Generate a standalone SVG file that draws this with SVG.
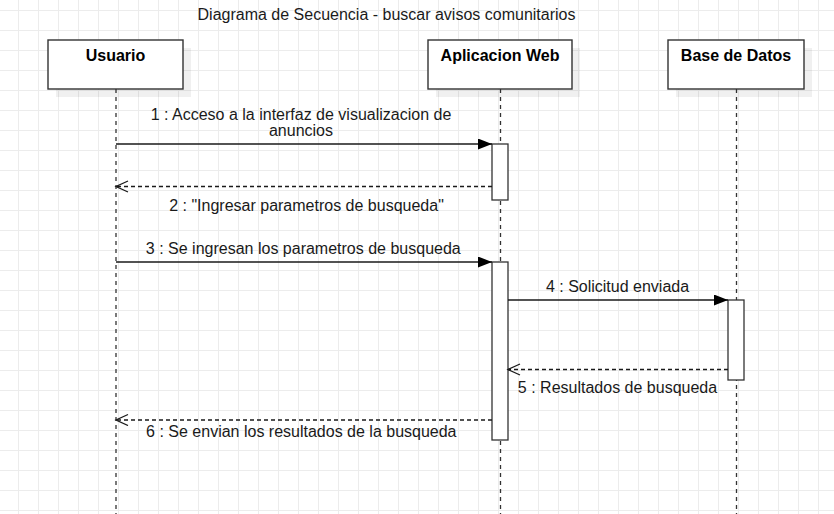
<svg xmlns="http://www.w3.org/2000/svg" width="834" height="514" viewBox="0 0 834 514">
<style>
text{font-family:"Liberation Sans",Arial,sans-serif;font-size:16px;fill:#1a1a1a}
.b{font-weight:bold;text-anchor:middle;fill:#000}
.m{text-anchor:middle}
.box{fill:#fff;stroke:#333;stroke-width:1.4}
.sh{fill:#000;fill-opacity:0.06}
.act{fill:#fff;stroke:#333;stroke-width:1.3}
.life{stroke:#333;stroke-width:1.3;stroke-dasharray:4 4;fill:none}
.msg{stroke:#1a1a1a;stroke-width:1.3;fill:none}
.ret{stroke:#1a1a1a;stroke-width:1.3;fill:none;stroke-dasharray:4 3}
</style>
<defs>
<pattern id="grid" patternUnits="userSpaceOnUse" x="18" y="10" width="20" height="20">
<path d="M0.5 0V20M0 0.5H20" stroke="#ececec" stroke-width="1" fill="none"/>
</pattern>
<marker id="fill" markerUnits="userSpaceOnUse" markerWidth="16" markerHeight="14" refX="14" refY="5.5" orient="auto">
<path d="M0 0L14 5.5L0 11Z" fill="#000"/>
</marker>
<marker id="open" markerUnits="userSpaceOnUse" markerWidth="16" markerHeight="14" refX="13" refY="6" orient="auto">
<path d="M1 0.5L13 6L1 11.5" fill="none" stroke="#1a1a1a" stroke-width="1.3"/>
</marker>
</defs>
<rect width="834" height="514" fill="#fff"/>
<rect width="834" height="514" fill="url(#grid)"/>
<text x="386.5" y="19.5" class="m">Diagrama de Secuencia - buscar avisos comunitarios</text>
<g id="lifelines">
<line class="life" x1="116" y1="89" x2="116" y2="514"/>
<line class="life" x1="500.5" y1="89" x2="500.5" y2="514"/>
<line class="life" x1="736.5" y1="89" x2="736.5" y2="514"/>
</g>
<g id="usuario">
<rect class="sh" x="56" y="48" width="135" height="49"/>
<rect class="box" x="48" y="40" width="135" height="49"/>
<text x="115.5" y="61" class="b">Usuario</text>
</g>
<g id="app">
<rect class="sh" x="436" y="48" width="144" height="49"/>
<rect class="box" x="428" y="40" width="144" height="49"/>
<text x="500" y="61" class="b">Aplicacion Web</text>
</g>
<g id="db">
<rect class="sh" x="676" y="48" width="136" height="49"/>
<rect class="box" x="668" y="40" width="136" height="49"/>
<text x="736" y="61" class="b">Base de Datos</text>
</g>
<g id="act1"><rect class="act" x="492" y="144" width="16" height="56"/></g>
<g id="act2"><rect class="act" x="492" y="262" width="16" height="178"/></g>
<g id="act3"><rect class="act" x="728" y="300" width="16" height="80"/></g>
<g id="connectors">
<line class="msg" x1="116" y1="144" x2="492" y2="144" marker-end="url(#fill)"/>
<line class="ret" x1="492" y1="186.5" x2="116" y2="186.5" marker-end="url(#open)"/>
<line class="msg" x1="116" y1="262" x2="492" y2="262" marker-end="url(#fill)"/>
<line class="msg" x1="508" y1="300" x2="728" y2="300" marker-end="url(#fill)"/>
<line class="ret" x1="728" y1="369.5" x2="508" y2="369.5" marker-end="url(#open)"/>
<line class="ret" x1="492" y1="420" x2="116" y2="420" marker-end="url(#open)"/>
</g>
<g id="labels">
<text x="301" y="119.5" class="m">1 : Acceso a la interfaz de visualizacion de</text>
<text x="301" y="136" class="m">anuncios</text>
<text x="306.5" y="211" class="m">2 : "Ingresar parametros de busqueda"</text>
<text x="303.3" y="254" class="m">3 : Se ingresan los parametros de busqueda</text>
<text x="617.5" y="292" class="m">4 : Solicitud enviada</text>
<text x="617.5" y="393" class="m">5 : Resultados de busqueda</text>
<text x="301.3" y="437" class="m">6 : Se envian los resultados de la busqueda</text>
</g>
</svg>
